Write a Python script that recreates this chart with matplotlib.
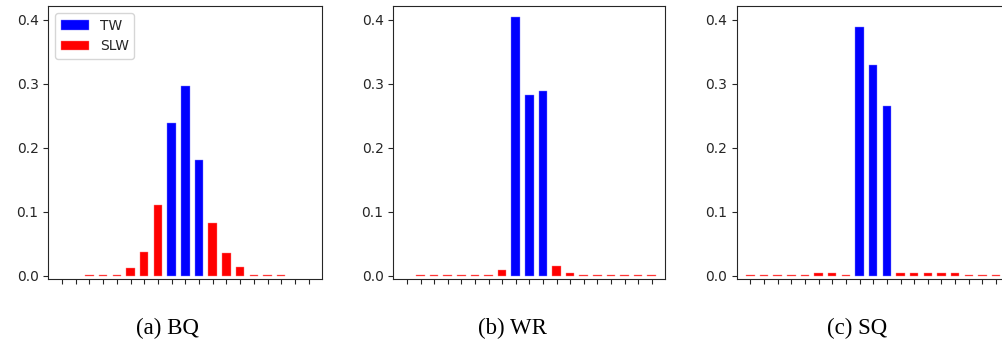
import matplotlib
matplotlib.use("Agg")
import matplotlib.pyplot as plt

# ---- data ----
positions = list(range(19))
yticks = [0.0, 0.1, 0.2, 0.3, 0.4]
captions = ["(a) BQ", "(b) WR", "(c) SQ"]
legend_labels = ["TW", "SLW"]

bq_tw = [None] * 8 + [0.238, 0.297, 0.181] + [None] * 8
bq_slw = [None, None, 0.0022, 0.0022, 0.0022, 0.0125, 0.0375, 0.111, None, None, None,
          0.082, 0.036, 0.014, 0.0022, 0.0022, 0.0022, None, None]

wr_tw = [None] * 8 + [0.404, 0.282, 0.288] + [None] * 8
wr_slw = [None, 0.0022, 0.0022, 0.0022, 0.0022, 0.0022, 0.0022, 0.010, None, None, None,
          0.015, 0.005, 0.0022, 0.0022, 0.0022, 0.0022, 0.0022, 0.0022]

sq_tw = [None] * 8 + [0.388, 0.329, 0.266] + [None] * 8
sq_slw = [0.0022, 0.0022, 0.0022, 0.0022, 0.0022, 0.005, 0.005, 0.0022, None, None, None,
          0.005, 0.005, 0.005, 0.005, 0.005, 0.0022, 0.0022, 0.0022]

panels = [(bq_tw, bq_slw), (wr_tw, wr_slw), (sq_tw, sq_slw)]

# ---- layout ----
W, H = 1002, 341
fig = plt.figure(figsize=(W / 100, H / 100), dpi=100)
txt_col = "#262626"
plt.rcParams["font.family"] = ["DejaVu Sans"]

ax_px = [(48.3, 274.0), (393.3, 272.0), (736.7, 273.0)]
top_px, bot_px = 6.0, 279.3
cap_x_px = [167.5, 512.0, 856.7]


def pairs(vals):
    xs = [p for p, v in zip(positions, vals) if v is not None]
    ys = [v for v in vals if v is not None]
    return xs, ys


for i, ((tw, slw), (lpx, wpx)) in enumerate(zip(panels, ax_px)):
    ax = fig.add_axes([lpx / W, 1 - bot_px / H, wpx / W, (bot_px - top_px) / H])
    xs, ys = pairs(tw)
    ax.bar(xs, ys, width=0.62, color="#0000ff", edgecolor="#8080ff", linewidth=0.3,
           label=legend_labels[0])
    xs, ys = pairs(slw)
    ax.bar(xs, ys, width=0.62, color="#ff0000", edgecolor="#ff8080", linewidth=0.3,
           label=legend_labels[1])
    ax.set_xlim(-1, 19)
    ax.set_ylim(-0.0052, 0.4214)
    ax.set_xticks(positions)
    ax.set_xticklabels([""] * len(positions))
    ax.set_yticks(yticks)
    ax.set_yticklabels([f"{t:.1f}" for t in yticks])
    ax.tick_params(colors=txt_col, labelcolor=txt_col, labelsize=10)
    for s in ax.spines.values():
        s.set_color(txt_col)
    if i == 0:
        leg = ax.legend(loc="upper left", fontsize=10)
        for t in leg.get_texts():
            t.set_color(txt_col)
    fig.text(cap_x_px[i] / W, 1 - 334.3 / H, captions[i], ha="center", va="baseline",
             fontsize=16.5, family="Liberation Serif", color="black")

fig.savefig("out.png", dpi=100)
